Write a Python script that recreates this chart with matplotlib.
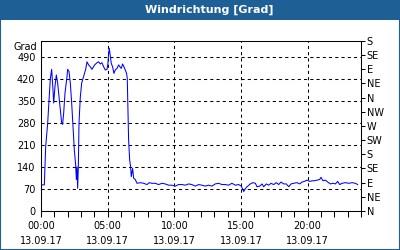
import matplotlib
matplotlib.use("Agg")
import matplotlib.pyplot as plt
from matplotlib.patches import Rectangle
from matplotlib.ticker import MultipleLocator

# Messwerte (Stunden ab 00:00, Windrichtung in Grad)
stunden = [0.0, 0.25, 0.30, 0.35, 0.50, 0.60, 0.70, 0.80, 0.90, 0.95, 1.05, 1.15, 1.25,
           1.35, 1.45, 1.55, 1.62, 1.70, 1.80, 1.95, 2.00, 2.10, 2.20, 2.30, 2.40, 2.50,
           2.60, 2.65, 2.70, 2.75, 2.80, 2.85, 2.95, 3.05, 3.15, 3.25, 3.35, 3.45, 3.57,
           3.70, 3.82, 4.02, 4.20, 4.32, 4.45, 4.57, 4.70, 4.82, 4.95, 5.02, 5.07, 5.12,
           5.20, 5.27, 5.37, 5.47, 5.57, 5.70, 5.82, 5.92, 6.02, 6.12, 6.22, 6.32, 6.42,
           6.47, 6.52, 6.57, 6.65, 6.72, 6.77, 6.87, 6.95, 7.07, 7.20, 7.45, 7.70, 7.95,
           8.12, 8.32, 8.57, 8.82, 9.07, 9.32, 9.57, 9.82, 10.07, 10.32, 10.57, 10.82,
           11.07, 11.32, 11.57, 11.82, 12.07, 12.32, 12.57, 12.82, 13.07, 13.32, 13.57,
           13.82, 14.07, 14.32, 14.57, 14.82, 15.02, 15.10, 15.20, 15.33, 15.45, 15.70,
           15.90, 16.08, 16.20, 16.40, 16.58, 16.70, 16.90, 17.08, 17.25, 17.45, 17.65,
           17.83, 18.00, 18.20, 18.40, 18.58, 18.75, 18.95, 19.20, 19.40, 19.58, 19.75,
           19.95, 20.15, 20.33, 20.50, 20.70, 20.90, 21.00, 21.15, 21.33, 21.50, 21.70,
           21.90, 22.08, 22.25, 22.40, 22.58, 22.83, 23.08, 23.33, 23.58, 23.75]
grad = [83, 83, 141, 204, 279, 352, 421, 450, 384, 343, 396, 432, 406,
        363, 321, 279, 275, 311, 375, 427, 450, 443, 406, 343, 268, 194,
        146, 100, 140, 72, 141, 279, 363, 406, 421, 437, 450, 474, 464,
        458, 450, 464, 471, 474, 467, 471, 458, 448, 450, 469, 501, 517,
        490, 469, 458, 437, 448, 453, 464, 458, 453, 467, 458, 448, 437,
        421, 331, 226, 162, 141, 109, 135, 104, 100, 88, 90, 88, 84,
        90, 88, 88, 84, 88, 86, 82, 82, 79, 84, 84, 82,
        86, 84, 79, 84, 82, 79, 82, 79, 86, 88, 84,
        84, 82, 88, 82, 84, 79, 72, 62, 71, 77, 86,
        90, 88, 77, 79, 86, 77, 86, 82, 88, 84, 90,
        84, 92, 86, 86, 77, 86, 88, 90, 86, 92, 94,
        98, 94, 96, 96, 98, 100, 107, 96, 98, 92, 86,
        88, 86, 94, 84, 88, 90, 88, 90, 88, 84]

y_ticks = [0, 70, 140, 210, 280, 350, 420, 490]
x_ticks = [0, 5, 10, 15, 20]
x_labels = ["00:00\n13.09.17", "05:00\n13.09.17", "10:00\n13.09.17",
            "15:00\n13.09.17", "20:00\n13.09.17"]
himmel = ["N", "NE", "E", "SE", "S", "SW", "W", "NW", "N", "NE", "E", "SE", "S"]
himmel_pos = [45 * i for i in range(len(himmel))]

blau = "#1e5f95"
plt.rcParams["font.family"] = "DejaVu Sans"
plt.rcParams["font.size"] = 7

fig = plt.figure(figsize=(4, 2.5), dpi=100)
fig.patch.set_facecolor("white")

# Titelleiste und Rahmen
fig.patches.append(Rectangle((0, 230 / 250), 1, 20 / 250, transform=fig.transFigure,
                             facecolor=blau, edgecolor="none", zorder=0))
fig.patches.append(Rectangle((0, 0), 1, 1, transform=fig.transFigure, fill=False,
                             edgecolor=blau, linewidth=1.5, zorder=5))
fig.text(209 / 400, 240 / 250, "Windrichtung [Grad]", color="white", fontsize=8,
         fontweight="bold", ha="center", va="center")

ax = fig.add_axes([41 / 400, 39 / 250, 320 / 400, 170 / 250])
ax.plot(stunden, grad, color="#0000ff", linewidth=0.75, zorder=3)

ax.set_xlim(0, 24)
ax.set_ylim(0, 540)
ax.set_yticks(y_ticks)
ax.set_xticks(x_ticks)
ax.set_xticklabels(x_labels, linespacing=1.6)
ax.xaxis.set_minor_locator(MultipleLocator(1))
ax.tick_params(axis="y", length=0, pad=4)
ax.tick_params(axis="x", which="both", length=4, width=0.75, direction="out", pad=3)
ax.grid(True, which="major", color="black", linewidth=0.75, linestyle=(0, (3, 3)))
for s in ax.spines.values():
    s.set_linewidth(0.75)

fig.text(37 / 400, 203.5 / 250, "Grad", ha="right", va="center", fontsize=7)

ax2 = ax.twinx()
ax2.set_ylim(0, 540)
ax2.set_yticks(himmel_pos)
ax2.set_yticklabels(himmel)
ax2.tick_params(axis="y", length=3, width=0.75, pad=1)
for s in ax2.spines.values():
    s.set_visible(False)

fig.savefig("out.png", dpi=100)
